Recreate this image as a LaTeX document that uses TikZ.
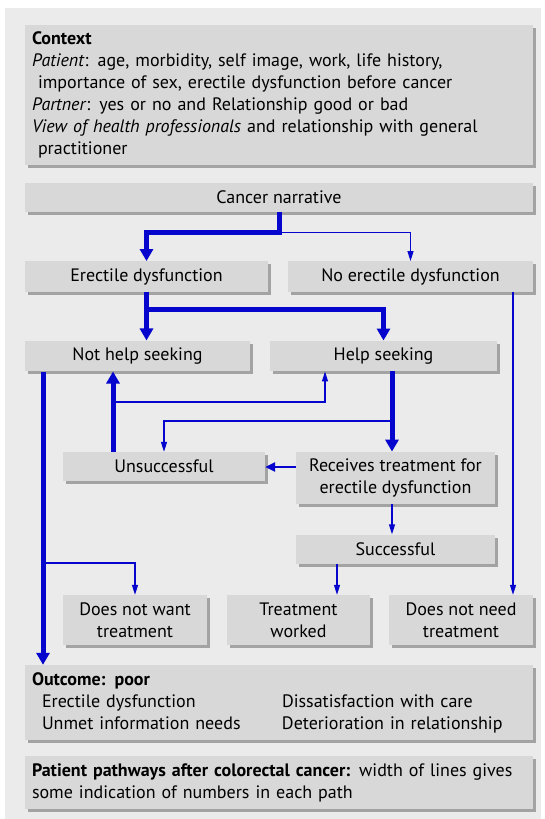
\documentclass[tikz,border=0pt]{standalone}
\usepackage{fontspec}
\setmainfont{PT Sans}
\usepackage{tikz}
\usetikzlibrary{
    arrows.meta,
    shadows,
    positioning
}
\definecolor{bggray}{HTML}{EBEBEB}
\definecolor{boxgray}{HTML}{D8D8D8}
\definecolor{shadegray}{HTML}{A3A3A3}
\definecolor{pathblue}{RGB}{5,5,205}
\tikzset{
    box/.style={fill=boxgray, inner sep=7pt, align=center,
        drop shadow={shadow xshift=3pt, shadow yshift=-3pt, fill=shadegray, opacity=1}},
    onerow/.style={box, minimum height=29pt},
    tworow/.style={box, minimum height=50pt},
    fatline/.style={draw=pathblue, line width=5pt, -{Triangle[width=13pt,length=12pt]}},
    midline/.style={draw=pathblue, line width=2.6pt, -{Triangle[width=9pt,length=10pt]}},
    thinline/.style={draw=pathblue, line width=1.4pt, -{Triangle[width=6pt,length=10pt]}}
}

\begin{document}
\begin{tikzpicture}[x=1pt, y=-1pt, font=\fontsize{18}{22}\selectfont]
                        \useasboundingbox (0,0) rectangle (544,819);
                        \fill[bggray] (5,8) rectangle (541,819);

                        % boxes
                        \node[box, minimum width=508pt, minimum height=136pt, text width=494pt, align=left] (ctx) at (279,95) {\textbf{Context}\\
                            \textit{Patient}: age, morbidity, self image, work, life history,\\
                            \hspace*{6pt}importance of sex, erectile dysfunction before cancer\\
                            \textit{Partner}: yes or no and Relationship good or bad\\
                            \textit{View of health professionals} and relationship with general\\
                            \hspace*{6pt}practitioner};
                        \node[onerow, minimum width=508pt] (cn) at (279,197) {Cancer narrative};
                        \node[onerow, minimum width=243pt] (ed) at (146.5,276.5) {Erectile dysfunction};
                        \node[onerow, minimum width=245pt] (ned) at (410.5,276.5) {No erectile dysfunction};
                        \node[onerow, minimum width=225pt] (nhs) at (137.5,356) {Not help seeking};
                        \node[onerow, minimum width=227pt] (hs) at (383.5,356) {Help seeking};
                        \node[onerow, minimum width=202pt] (uns) at (164,466.5) {Unsuccessful};
                        \node[tworow, minimum width=199pt] (rec) at (395.5,478) {Receives treatment for\\erectile dysfunction};
                        \node[onerow, minimum width=199pt] (suc) at (395.5,549) {Successful};
                        \node[tworow, minimum width=144pt] (dnw) at (135,620) {Does not want\\treatment};
                        \node[tworow, minimum width=143pt] (tw) at (298.5,620) {Treatment\\worked};
                        \node[tworow, minimum width=144pt] (dnn) at (461,620) {Does not need\\treatment};
                        \node[box, minimum width=508pt, minimum height=75pt, text width=494pt, align=left] (out) at (279,702.5) {\textbf{Outcome: poor}\\
                            \hspace*{10pt}\makebox[240pt][l]{Erectile dysfunction}Dissatisfaction with care\\
                            \hspace*{10pt}\makebox[240pt][l]{Unmet information needs}Deterioration in relationship};
                        \node[box, minimum width=508pt, minimum height=51pt, text width=494pt, align=left] (cap) at (279,782.5) {\textbf{Patient pathways after colorectal cancer:} width of lines gives\\
                            some indication of numbers in each path};

                        % paths
                        \draw[fatline] (cn.south) -- ++(0,21) -| (ed.north);
                        \draw[thinline] ([yshift=-21pt]cn.south) -| (ned.north);
                        \draw[fatline] (ed.south) -- (ed.south |- nhs.north);
                        \draw[fatline] ([yshift=-18pt]ed.south) -| (hs.north);
                        \draw[thinline] ([xshift=102.5pt]ned.south) -- ([xshift=102.5pt]ned.south |- dnn.north);
                        \draw[fatline] ([xshift=-94.5pt]nhs.south) -- ([xshift=-94.5pt]nhs.south |- out.north);
                        \draw[thinline] ([xshift=-94.5pt]nhs.south |- 0,563) -| (dnw.north);
                        \draw[fatline] ([xshift=-51pt]uns.north) -- ([xshift=-51pt]uns.north |- nhs.south);
                        \draw[thinline] ([xshift=-51pt]uns.north |- 0,402) -| ([xshift=-58.5pt]hs.south);
                        \draw[fatline] ([xshift=8.5pt]hs.south) -- ([xshift=8.5pt]hs.south |- rec.north);
                        \draw[thinline] ([xshift=8.5pt]hs.south |- 0,421) -| (uns.north);
                        \draw[midline] ([yshift=11pt]rec.west) -- ([yshift=11pt]rec.west -| uns.east);
                        \draw[thinline] ([xshift=-3.5pt]rec.south) -- ([xshift=-3.5pt]rec.south |- suc.north);
                        \draw[thinline] ([xshift=-58.5pt]suc.south) -- ([xshift=-58.5pt]suc.south |- tw.north);
                    \end{tikzpicture}
\end{document}
